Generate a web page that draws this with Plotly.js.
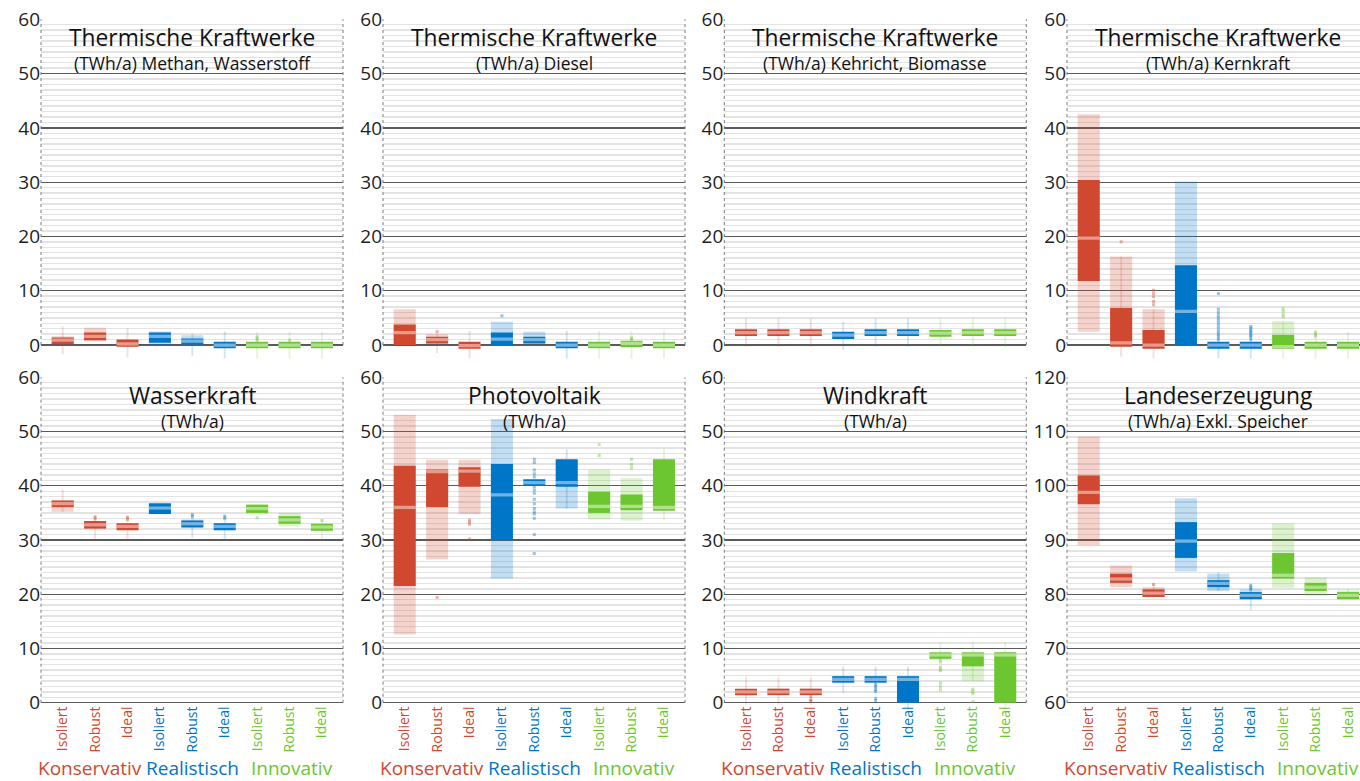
<!DOCTYPE html>
<html><head><meta charset="utf-8">
<script src="https://cdn.plot.ly/plotly-3.0.1.min.js"></script>
<style>html,body{margin:0;padding:0;background:#fff}#chart{width:1360px;height:781px}</style>
</head><body><div id="chart"></div>
<script>
// ---------- data ----------
const scenarios = ['Konservativ', 'Realistisch', 'Innovativ'];
const variants = ['Isoliert', 'Robust', 'Ideal'];
const scenarioColors = ['#d0482f', '#0076c8', '#6cc630'];
const titles = ['Thermische Kraftwerke', 'Thermische Kraftwerke', 'Thermische Kraftwerke', 'Thermische Kraftwerke',
                'Wasserkraft', 'Photovoltaik', 'Windkraft', 'Landeserzeugung'];
const subtitles = ['(TWh/a) Methan, Wasserstoff', '(TWh/a) Diesel', '(TWh/a) Kehricht, Biomasse', '(TWh/a) Kernkraft',
                   '(TWh/a)', '(TWh/a)', '(TWh/a)', '(TWh/a) Exkl. Speicher'];
const axisMin = [0, 0, 0, 0, 0, 0, 0, 60];

// outer (light) range per panel, 9 categories each
const lightLo = [
  [0.1, 0.7, null, 0.0, 0.0, null, null, null, null],
  [0.0, 0.2, null, 0.0, 0.3, null, null, null, null],
  [null, null, null, null, null, null, null, null, null],
  [2.45, 0.0, 0.0, 0.0, null, null, 0.0, null, null],
  [35.2, null, null, null, 32.6, null, 34.9, 32.5, null],
  [12.6, 26.4, 34.8, 22.9, null, 35.8, 33.8, 33.6, null],
  [null, null, null, null, null, null, null, 4.0, null],
  [89.0, 81.3, 79.5, 84.2, 80.6, 79.0, 81.2, 79.7, 79.0]
];
const lightHi = [
  [1.6, 3.2, null, 2.5, 1.8, null, null, null, null],
  [6.6, 2.0, null, 4.3, 2.45, null, null, null, null],
  [null, null, null, null, null, null, null, null, null],
  [42.5, 16.3, 6.6, 30.1, null, null, 4.4, null, null],
  [37.3, null, null, null, 33.8, null, 36.6, 35.0, null],
  [53.1, 44.8, 44.8, 52.3, null, 44.8, 43.0, 41.4, null],
  [null, null, null, null, null, null, null, 6.7, null],
  [109.1, 85.3, 81.3, 97.7, 83.8, 80.9, 93.1, 83.1, 80.7]
];
// inner (dark) box
const q1 = [
  [0.2, 0.9, -0.3, 0.4, 0.1, -0.6, -0.6, -0.6, -0.6],
  [0.0, 0.3, -0.7, 0.0, 0.3, -0.6, -0.6, -0.4, -0.6],
  [1.65, 1.65, 1.65, 1.1, 1.65, 1.65, 1.5, 1.65, 1.65],
  [11.8, -0.3, -0.7, 0.0, -0.7, -0.7, -0.7, -0.7, -0.7],
  [36.1, 32.1, 31.8, 34.8, 32.3, 31.8, 35.0, 33.0, 31.7],
  [21.5, 36.1, 39.8, 30.1, 40.1, 39.8, 35.0, 35.5, 35.4],
  [1.4, 1.4, 1.4, 3.7, 3.7, 0.0, 8.1, 6.7, 0.0],
  [96.6, 82.1, 79.5, 86.7, 81.3, 79.1, 82.9, 80.6, 79.1]
];
const q3 = [
  [1.4, 2.3, 1.0, 2.3, 1.2, 0.6, 0.6, 0.6, 0.6],
  [3.8, 1.5, 0.6, 2.3, 1.5, 0.6, 0.6, 0.8, 0.6],
  [2.9, 2.9, 2.9, 2.45, 2.9, 2.9, 2.75, 2.9, 2.9],
  [30.4, 6.8, 2.75, 14.7, 0.6, 0.6, 1.85, 0.6, 0.6],
  [37.3, 33.5, 33.1, 36.8, 33.6, 33.1, 36.5, 34.4, 33.0],
  [43.7, 43.0, 43.4, 44.0, 41.2, 44.9, 38.9, 38.4, 44.9],
  [2.6, 2.6, 2.6, 4.9, 4.9, 4.9, 9.3, 9.3, 9.3],
  [101.9, 83.8, 80.9, 93.3, 82.6, 80.4, 87.6, 82.1, 80.4]
];
const median = [
  [0.9, 1.6, 0.2, 1.6, 0.7, 0.0, 0.0, 0.0, 0.0],
  [2.3, 1.0, -0.1, 1.1, 1.0, 0.0, 0.0, 0.3, 0.0],
  [2.3, 2.3, 2.3, 1.8, 2.3, 2.3, 2.2, 2.3, 2.3],
  [19.7, 0.4, 0.0, 6.2, 0.0, 0.0, -0.3, 0.0, 0.0],
  [36.7, 32.8, 32.5, 35.9, 33.0, 32.5, 35.8, 33.7, 32.4],
  [36.0, 42.6, 42.7, 38.3, 40.6, 40.6, 36.2, 36.2, 36.0],
  [2.0, 2.0, 2.0, 4.3, 4.3, 4.3, 8.8, 8.8, 8.8],
  [98.8, 82.8, 80.2, 89.8, 82.0, 79.8, 83.5, 81.3, 79.8]
];
// whiskers (null where they do not reach beyond the light range)
const whiskLo = [
  [-1.7, null, -2.3, null, -2.0, -2.5, -2.5, -2.5, -2.5],
  [null, -1.5, -2.5, null, null, -2.5, -2.5, -2.5, -2.5],
  [-0.3, -0.3, -0.3, -0.9, -0.3, -0.3, -0.3, -0.3, -0.3],
  [null, -2.1, -2.5, null, -2.5, -2.5, -2.5, -2.5, -2.5],
  [35.2, 30.2, 30.0, null, 30.4, 30.0, null, null, 30.0],
  [null, null, null, null, null, 35.8, null, null, 33.6],
  [-0.4, -0.4, -0.4, 1.8, 1.8, -1.3, 8.1, 4.0, -1.3],
  [null, null, 79.5, null, 80.6, 77.1, null, null, 79.1]
];
const whiskHi = [
  [3.4, null, 3.1, null, 2.1, 2.5, 2.5, 2.5, 2.5],
  [null, 2.0, 2.6, null, null, 2.6, 2.6, 2.6, 2.6],
  [4.9, 4.9, 4.9, 4.3, 4.9, 4.9, 4.9, 4.9, 4.9],
  [null, 16.3, 6.6, null, 2.5, 2.5, 4.4, 2.5, 2.5],
  [39.3, 34.5, 34.4, null, 34.7, 34.5, null, null, 33.7],
  [null, null, null, null, null, 46.8, null, null, 46.8],
  [4.8, 4.8, 4.8, 6.7, 6.7, 6.7, 11.2, 11.2, 11.2],
  [null, null, 82.0, null, 84.1, 82.0, null, null, 81.0]
];
// outliers per panel, per category
const outliers = [
  [[], [], [], [], [], [], [1.5, 1.2, 0.9], [0.9], []],
  [[], [2.45], [], [5.4], [], [], [], [1.3, 1.0], []],
  [[], [], [], [], [], [], [], [], []],
  [[], [19.0], [10.1, 9.5, 8.9, 8.0, 7.4], [],
   [9.5, 6.6, 6.0, 5.5, 5.0, 4.5, 4.0, 3.5, 3.0, 2.5, 2.0, 1.5, 1.0],
   [3.4, 3.1, 2.8, 2.5, 2.2, 1.8, 1.5, 1.0], [6.7, 6.2, 5.6, 5.2], [2.4, 2.0, 1.6], []],
  [[], [34.3, 33.9], [34.2, 33.8], [], [34.7, 34.3], [34.4, 34.0], [34.1], [], [33.6]],
  [[], [19.4], [33.7, 33.3, 32.9, 30.2], [],
   [44.9, 44.3, 42.9, 42.2, 41.6, 39.8, 39.2, 38.6, 37.5, 36.7, 35.8, 35.2, 34.8, 34.0, 31.0, 27.5],
   [], [47.6, 45.6], [44.9, 43.9, 43.3], []],
  [[], [], [1.1, 0.5, 0.3], [], [3.4, 3.0, 2.5, 2.1, 0.8, 0.4], [], [7.9, 7.5, 6.6, 6.2, 5.9, 3.6, 3.0, 2.4], [2.5, 2.1, 1.7, 0.2], []],
  [[], [], [81.8], [], [], [81.6, 81.2, 80.9], [], [], []]
];

// ---------- drawing ----------
const W = 1360, H = 781;
const FONT = 'Open Sans, Segoe UI, sans-serif';
const cats = [0, 1, 2, 3, 4, 5, 6, 7, 8];
const catColor = cats.map(c => scenarioColors[Math.floor(c / 3)]);
function rgba(hex, a) {
  const n = parseInt(hex.slice(1), 16);
  return `rgba(${(n >> 16) & 255},${(n >> 8) & 255},${n & 255},${a})`;
}
const tickText = cats.map(c => `<span style="color:${catColor[c]}">${variants[c % 3]}</span>`);
const colLeft = [41, 383, 724.3, 1067];
const colRight = [343, 685, 1026.3, 1360];
const rowTop = [19.3, 377.3];
const rowBottom = [361.3, 719];
const zeroPx = [345, 702.7];

const traces = [];
const layout = {
  width: W, height: H, margin: {l: 0, r: 0, t: 0, b: 0},
  paper_bgcolor: '#fff', plot_bgcolor: '#fff', showlegend: false,
  barmode: 'overlay', hovermode: false,
  font: {family: FONT, color: '#1a1a1a'},
  annotations: [], shapes: []
};

function diff(lo, hi) { return lo.map((v, i) => (v == null || hi[i] == null) ? null : hi[i] - v); }

for (let p = 0; p < 8; p++) {
  const col = p % 4, row = Math.floor(p / 4);
  const s = p === 0 ? '' : String(p + 1);
  const xa = 'x' + s, ya = 'y' + s;
  const mn = axisMin[p];

  traces.push({type: 'bar', xaxis: xa, yaxis: ya, x: cats, base: whiskLo[p], y: diff(whiskLo[p], whiskHi[p]),
    width: 0.06, marker: {color: catColor.map(c => rgba(c, 0.18)), line: {width: 0}}});
  traces.push({type: 'bar', xaxis: xa, yaxis: ya, x: cats, base: lightLo[p], y: diff(lightLo[p], lightHi[p]),
    width: 0.68, marker: {color: catColor.map(c => rgba(c, 0.24)), line: {width: 0}}});
  traces.push({type: 'bar', xaxis: xa, yaxis: ya, x: cats, base: q1[p], y: diff(q1[p], q3[p]),
    width: 0.68, marker: {color: catColor, line: {width: 0}}});
  traces.push({type: 'bar', xaxis: xa, yaxis: ya, x: cats, base: median[p].map(v => v - 0.3), y: median[p].map(() => 0.6),
    width: 0.68, marker: {color: 'rgba(255,255,255,0.45)', line: {width: 0}}});
  const ox = [], oy = [], oc = [];
  outliers[p].forEach((vals, c) => vals.forEach(v => { ox.push(c); oy.push(v); oc.push(rgba(catColor[c], 0.42)); }));
  traces.push({type: 'scatter', mode: 'markers', xaxis: xa, yaxis: ya, x: ox, y: oy,
    marker: {symbol: 'square', size: 3, color: oc, line: {width: 0}}});

  const majors = [], minors = [];
  for (let v = mn; v <= mn + 60; v++) { if ((v - mn) % 10 === 0) majors.push(v); else minors.push(v); }

  layout['xaxis' + s] = {
    domain: [colLeft[col] / W, colRight[col] / W],
    range: col === 3 ? [-0.67, 8.37] : [-0.67, 8.65],
    showgrid: false, zeroline: false, showline: false, ticks: '',
    tickmode: 'array', tickvals: cats, ticktext: tickText, tickangle: -90,
    showticklabels: row === 1, tickfont: {family: FONT, size: 14},
    anchor: 'free', position: 1 - zeroPx[row] / H, fixedrange: true
  };
  layout['yaxis' + s] = {
    domain: [1 - rowBottom[row] / H, 1 - rowTop[row] / H],
    range: [mn - 3, mn + 60],
    tickmode: 'array', tickvals: majors, ticks: '',
    showgrid: true, gridcolor: '#5a5a5a', gridwidth: 1.3,
    minor: {tickmode: 'array', tickvals: minors, showgrid: true, gridcolor: '#e3e3e3', gridwidth: 1.4, ticks: ''},
    zeroline: false, showline: false,
    tickfont: {family: FONT, size: 19, color: '#1e1e1e'},
    anchor: xa, fixedrange: true
  };

  const f0 = 3 / 63;
  [0, 1].forEach(xd => {
    if (col === 3 && xd === 1) return;
    layout.shapes.push({type: 'line', xref: xa + ' domain', yref: ya + ' domain', x0: xd, x1: xd, y0: f0, y1: 1,
      line: {color: '#7a7a7a', width: 1, dash: 'dot'}});
  });

  const cx = (colLeft[col] + 151) / W;
  const dy = row * 358;
  layout.annotations.push({xref: 'paper', yref: 'paper', x: cx, y: 1 - (37.2 + dy) / H, text: titles[p],
    showarrow: false, xanchor: 'center', yanchor: 'middle', font: {family: FONT, size: 22.8, color: '#111'}});
  layout.annotations.push({xref: 'paper', yref: 'paper', x: cx, y: 1 - (62.7 + dy) / H, text: subtitles[p],
    showarrow: false, xanchor: 'center', yanchor: 'middle', font: {family: FONT, size: 17.5, color: '#111'}});

  if (row === 1) {
    const offs = [48.7, 151, 251];
    scenarios.forEach((name, g) => {
      layout.annotations.push({xref: 'paper', yref: 'paper', x: (colLeft[col] + offs[g]) / W, y: 1 - 768 / H,
        text: name, showarrow: false, xanchor: 'center', yanchor: 'middle',
        font: {family: FONT, size: 19, color: scenarioColors[g]}});
    });
  }
}

Plotly.newPlot('chart', traces, layout, {staticPlot: true, displayModeBar: false});
</script>
</body></html>
